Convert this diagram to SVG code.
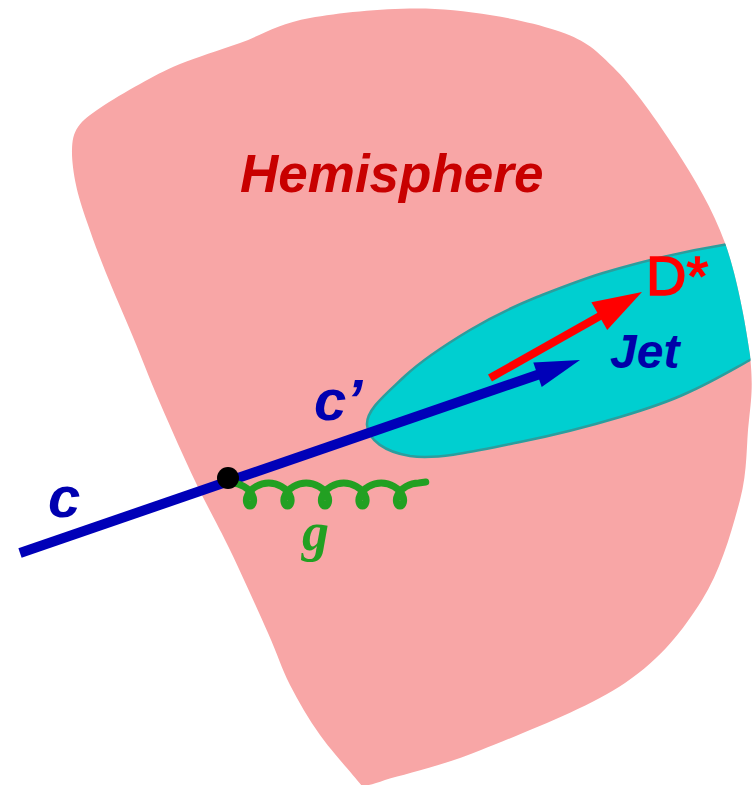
<svg xmlns="http://www.w3.org/2000/svg" xmlns:xlink="http://www.w3.org/1999/xlink" width="754" height="785" viewBox="0 0 754 785">
<style>
.lbl{font-family:"Liberation Sans",Arial,sans-serif;font-weight:bold;font-style:italic}
.blue{fill:#0000b0}
.quark{stroke:#0000b8;stroke-width:10;fill:none}
.red{stroke:#ff0000;stroke-width:8;fill:none}
</style>
<defs>
<path id="hemi" d="M310,18 C342.5,12.3 394.2,7 435,9 C475.8,11 525.3,20.2 555,30 C584.7,39.8 592.8,47 613,67 C633.2,87 657.3,120.7 676,150 C694.7,179.3 712.7,208.8 725,243 C737.3,277.2 745.8,325.5 750,355 C753,384.5 751.7,395.8 749,420 C746,444 748,470 740,500 C732,530 721.2,569.5 702,600 C682.8,630.5 661.8,658 625,683 C588.2,708 521,733.8 481,750 C441,766.2 405,774 385,780 C374,784 366,786 362,786 C355,777 332,751.8 320,735 C308,718.2 298.7,702 290,685 C281.3,668 278,655.5 268,633 C258,610.5 242,575 230,550 C218,525 207.7,507.5 196,483 C184.3,458.5 170.5,427.3 160,403 C149.5,378.7 142,358.7 133,337 C124,315.3 113.7,292.2 106,273 C98.3,253.8 92,236.7 87,222 C82,207.3 78.5,197 76,185 C73.5,173 71.7,159.7 72,150 C72.3,140.3 73.3,134 78,127 C82.7,120 89.7,115.2 100,108 C110.3,100.8 126.7,91.3 140,84 C153.3,76.7 163.3,70.8 180,64 C196.7,57.2 218.3,50.7 240,43 C261.7,35.3 277.5,23.7 310,18 Z"/>
<clipPath id="hemiClip"><use xlink:href="#hemi"/></clipPath>
</defs>
<g id="hemisphere">
<use xlink:href="#hemi" fill="#f8a6a6"/>
<text class="lbl" x="240" y="192" font-size="53" fill="#c80000">Hemisphere</text>
</g>
<g id="jet" clip-path="url(#hemiClip)">
<path d="M800,238 C760,240 740,242 723,245 C680,252 640,262 603,273 C580,280 560,288 537,297 C510,308 490,318 470,330 C440,348 420,362 405,376 C385,395 366,410 367,425 C368,440 385,452 410,456 C440,460 480,450 520,442 C560,434 590,426 620,417 C650,408 670,401 687,393 C710,383 730,371 750,360 C770,350 790,340 800,335 Z" fill="#00cfd0" stroke="#2a9e9e" stroke-width="2.5"/>
</g>
<g id="connectors">
<g id="quark">
<line class="quark" x1="20" y1="553" x2="540" y2="374"/>
<polygon points="580,360 541.7,387 533.3,362.4" fill="#0000b8"/>
</g>
<path id="gluon" d="M231.25,483 c9.15,0 17.74,5.48 20.87,11.5 c3.13,6.02 0.78,11.5 -2.12,11.5 c-2.9,0 -5.25,-5.48 -2.12,-11.5 c3.13,-6.02 11.72,-11.5 20.87,-11.5 c9.15,0 17.74,5.48 20.87,11.5 c3.13,6.02 0.78,11.5 -2.12,11.5 c-2.9,0 -5.25,-5.48 -2.12,-11.5 c3.13,-6.02 11.72,-11.5 20.87,-11.5 c9.15,0 17.74,5.48 20.87,11.5 c3.13,6.02 0.78,11.5 -2.12,11.5 c-2.9,0 -5.25,-5.48 -2.12,-11.5 c3.13,-6.02 11.72,-11.5 20.87,-11.5 c9.15,0 17.74,5.48 20.87,11.5 c3.13,6.02 0.78,11.5 -2.12,11.5 c-2.9,0 -5.25,-5.48 -2.12,-11.5 c3.13,-6.02 11.72,-11.5 20.87,-11.5 c9.15,0 17.74,5.48 20.87,11.5 c3.13,6.02 0.78,11.5 -2.12,11.5 c-2.9,0 -5.25,-5.48 -2.12,-11.5 c3.13,-6.02 11.72,-11.5 20.87,-11.5 l7,-1" fill="none" stroke="#22a022" stroke-width="7" stroke-linecap="round"/>
<g id="dstar-arrow">
<line class="red" x1="490" y1="378" x2="600" y2="316"/>
<polygon points="642,292 607.2,330 591.4,302.2" fill="#ff0000"/>
</g>
</g>
<g id="vertex"><circle cx="228" cy="478" r="11" fill="#000"/></g>
<g id="labels">
<text class="lbl blue" x="48" y="517" font-size="58">c</text>
<text class="lbl blue" x="314" y="420" font-size="58">c’</text>
<text class="lbl" x="610" y="368" font-size="48" fill="#0000a8">Jet</text>
<text x="646" y="295" font-family="Liberation Sans,Arial,sans-serif" font-size="56" fill="#ff0000" stroke="#ff0000" stroke-width="1.5">D*</text>
<text x="302" y="550" font-family="Liberation Serif,Times New Roman,serif" font-weight="bold" font-style="italic" font-size="54" fill="#22a022">g</text>
</g>
</svg>
